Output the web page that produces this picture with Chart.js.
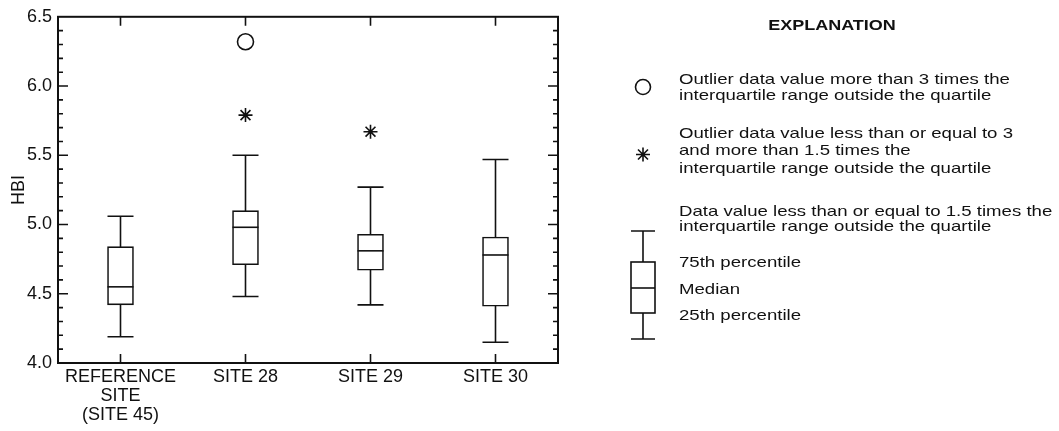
<!DOCTYPE html>
<html>
<head>
<meta charset="utf-8">
<script src="https://cdn.jsdelivr.net/npm/chart.js@4"></script>
<style>
  body { margin: 0; background: #fff; overflow: hidden; }
  #wrap { position: relative; width: 1059px; height: 431px; }
  #chartBox { position: absolute; left: 0; top: 0; width: 1059px; height: 431px; }
  .txt {
    position: absolute; white-space: nowrap; color: #111;
    font-family: "Liberation Sans", Arial, sans-serif; font-size: 15px; line-height: 16px;
    transform: scaleX(1.24); transform-origin: left center;
  }
  #explTitle {
    position: absolute; left: 832px; top: 17px; white-space: nowrap; color: #111;
    font-family: "Liberation Sans", Arial, sans-serif; font-size: 15px; line-height: 16px; font-weight: bold;
    transform: translateX(-50%) scaleX(1.2);
  }
  #icons { position: absolute; left: 0; top: 0; }
</style>
</head>
<body>
<div id="wrap">
  <div id="chartBox"><canvas id="hbiChart"></canvas></div>

  <svg id="icons" width="1059" height="431">
    <g fill="none" stroke="#111" stroke-width="1.6">
      <circle cx="643" cy="87" r="7.5" fill="#fff"/>
      <path d="M643 147.5 V161.5 M636 154.5 H650 M638 149.5 L648 159.5 M648 149.5 L638 159.5"/>
      <path d="M631 231 H655 M643 231 V262 M643 313 V339 M631 339 H655"/>
      <rect x="631" y="262" width="24" height="51" fill="#fff"/>
      <path d="M631 288 H655"/>
    </g>
  </svg>

  <div id="explTitle">EXPLANATION</div>
  <div class="txt" style="left:679px; top:71px">Outlier data value more than 3 times the</div>
  <div class="txt" style="left:679px; top:87px">interquartile range outside the quartile</div>
  <div class="txt" style="left:679px; top:125px">Outlier data value less than or equal to 3</div>
  <div class="txt" style="left:679px; top:142px">and more than 1.5 times the</div>
  <div class="txt" style="left:679px; top:160px">interquartile range outside the quartile</div>
  <div class="txt" style="left:679px; top:203px">Data value less than or equal to 1.5 times the</div>
  <div class="txt" style="left:679px; top:218px">interquartile range outside the quartile</div>
  <div class="txt" style="left:679px; top:254px">75th percentile</div>
  <div class="txt" style="left:679px; top:281px">Median</div>
  <div class="txt" style="left:679px; top:307px">25th percentile</div>
</div>

<script>
// categories and box plot statistics (HBI)
const sites = [["REFERENCE", "SITE", "(SITE 45)"], "SITE 28", "SITE 29", "SITE 30"];
const whiskerLow  = [4.19, 4.48, 4.42, 4.15];
const quartile25  = [4.42, 4.71, 4.67, 4.41];
const medians     = [4.55, 4.98, 4.81, 4.78];
const quartile75  = [4.84, 5.10, 4.93, 4.91];
const whiskerHigh = [5.06, 5.50, 5.27, 5.47];
// outliers
const farOutliers  = [null, 6.32, null, null];
const nearOutliers = [null, 5.79, 5.67, null];
// y axis
const yMin = 4.0;
const yMax = 6.5;
const yStep = 0.5;
const yMinorStep = 0.1;

const ink = "#111";
const fontFamily = "'Liberation Sans', Arial, sans-serif";

const boxParts = {
    id: "boxParts",
    beforeDatasetsDraw(chart) {
        const { ctx, scales: { x, y } } = chart;
        const bars = chart.getDatasetMeta(0).data;
        ctx.save();
        ctx.strokeStyle = ink;
        ctx.lineWidth = 1.6;
        whiskerLow.forEach((lo, i) => {
            const px = x.getPixelForValue(i);
            const half = bars[i].width / 2;
            const yLo = y.getPixelForValue(lo);
            const yHi = y.getPixelForValue(whiskerHigh[i]);
            ctx.beginPath();
            ctx.moveTo(px, yLo);
            ctx.lineTo(px, yHi);
            ctx.moveTo(px - half, yLo);
            ctx.lineTo(px + half, yLo);
            ctx.moveTo(px - half, yHi);
            ctx.lineTo(px + half, yHi);
            ctx.stroke();
        });
        ctx.restore();
    },
    afterDatasetsDraw(chart) {
        const { ctx, scales: { x, y } } = chart;
        const bars = chart.getDatasetMeta(0).data;
        ctx.save();
        ctx.strokeStyle = ink;
        ctx.lineWidth = 1.6;
        medians.forEach((m, i) => {
            const px = x.getPixelForValue(i);
            const half = bars[i].width / 2;
            const py = y.getPixelForValue(m);
            ctx.beginPath();
            ctx.moveTo(px - half, py);
            ctx.lineTo(px + half, py);
            ctx.stroke();
        });
        ctx.restore();
    },
    afterDraw(chart) {
        const { ctx, chartArea: a, scales: { x, y } } = chart;
        ctx.save();
        ctx.strokeStyle = ink;
        ctx.lineWidth = 2;
        ctx.strokeRect(a.left, a.top, a.right - a.left, a.bottom - a.top);

        ctx.lineWidth = 1.6;
        ctx.beginPath();
        // inward ticks on left and right
        const nMinor = Math.round((yMax - yMin) / yMinorStep);
        const perMajor = Math.round(yStep / yMinorStep);
        for (let k = 1; k < nMinor; k++) {
            const py = y.getPixelForValue(yMin + k * yMinorStep);
            const len = k % perMajor === 0 ? 10 : 5;
            ctx.moveTo(a.left, py);
            ctx.lineTo(a.left + len, py);
            ctx.moveTo(a.right, py);
            ctx.lineTo(a.right - len, py);
        }
        // inward ticks on top and bottom
        sites.forEach((s, i) => {
            const px = x.getPixelForValue(i);
            ctx.moveTo(px, a.bottom);
            ctx.lineTo(px, a.bottom - 9);
            ctx.moveTo(px, a.top);
            ctx.lineTo(px, a.top + 9);
        });
        ctx.stroke();
        ctx.restore();
    }
};

new Chart(document.getElementById("hbiChart"), {
    type: "bar",
    data: {
        labels: sites,
        datasets: [
            {
                label: "Interquartile range",
                data: quartile25.map((q, i) => [q, quartile75[i]]),
                backgroundColor: "#fff",
                borderColor: ink,
                borderWidth: 1.6,
                borderSkipped: false,
                barThickness: 26,
                order: 2
            },
            {
                type: "line",
                label: "Far outliers",
                data: farOutliers,
                showLine: false,
                pointStyle: "circle",
                pointRadius: 8,
                pointBackgroundColor: "#fff",
                pointBorderColor: ink,
                pointBorderWidth: 1.6,
                order: 1
            },
            {
                type: "line",
                label: "Outliers",
                data: nearOutliers,
                showLine: false,
                pointStyle: "star",
                pointRadius: 7,
                pointBorderColor: ink,
                pointBorderWidth: 1.6,
                order: 1
            }
        ]
    },
    options: {
        responsive: true,
        maintainAspectRatio: false,
        animation: false,
        layout: { padding: { left: 0, top: 16, right: 501, bottom: 0 } },
        plugins: {
            legend: { display: false },
            tooltip: { enabled: false }
        },
        scales: {
            x: {
                grid: { display: false, drawTicks: false },
                border: { display: false },
                ticks: {
                    color: ink,
                    padding: 4,
                    maxRotation: 0,
                    autoSkip: false,
                    font: { family: fontFamily, size: 18, lineHeight: 1.06 }
                },
                afterFit(scale) { scale.height = 68; }
            },
            y: {
                min: yMin,
                max: yMax,
                grid: { display: false, drawTicks: false },
                border: { display: false },
                ticks: {
                    stepSize: yStep,
                    color: ink,
                    padding: 6,
                    font: { family: fontFamily, size: 18 },
                    callback: v => v.toFixed(1)
                },
                title: {
                    display: true,
                    text: "HBI",
                    color: ink,
                    padding: { top: 8, bottom: 0 },
                    font: { family: fontFamily, size: 18 }
                },
                afterFit(scale) { scale.width = 58; }
            }
        }
    },
    plugins: [boxParts]
});
</script>
</body>
</html>
